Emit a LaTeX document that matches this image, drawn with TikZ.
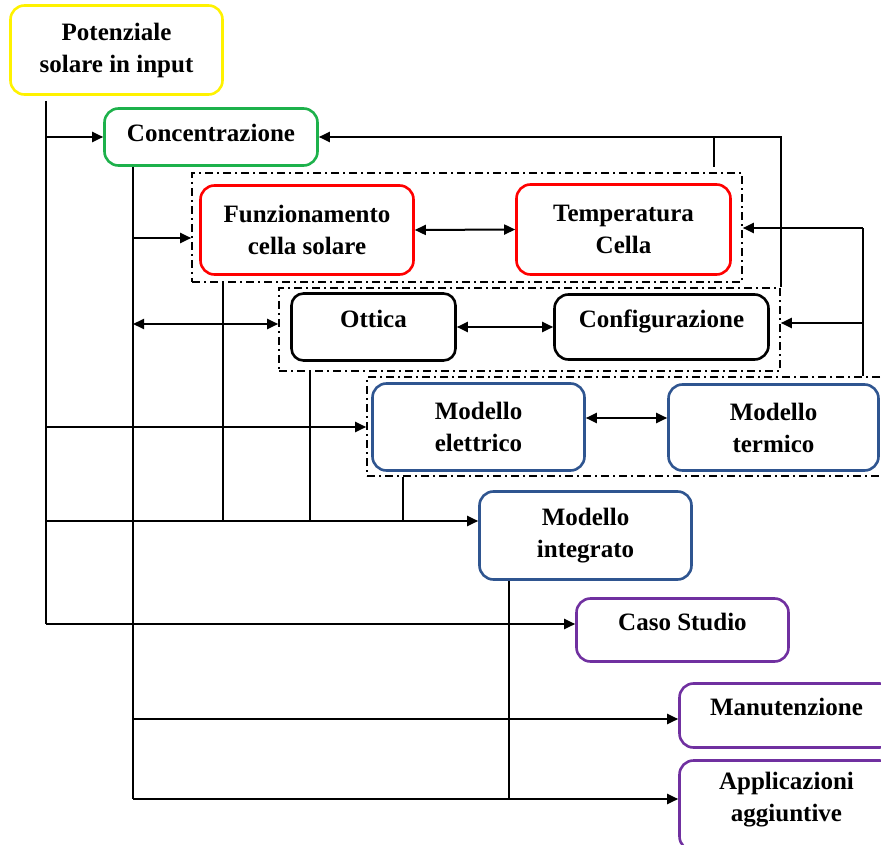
\documentclass[tikz,border=0pt]{standalone}
\usepackage{fontspec}
\setmainfont{Liberation Serif}
\usetikzlibrary{arrows.meta,calc}
\definecolor{cyel}{HTML}{FFF200}
\definecolor{cgreen}{HTML}{1DB14B}
\definecolor{cred}{HTML}{FF0000}
\definecolor{cblue}{HTML}{2F5590}
\definecolor{cpurple}{HTML}{7030A0}
\begin{document}
\begin{tikzpicture}[x=1pt,y=-1pt,
  box/.style={draw,line width=2.6pt,rounded corners=14pt,
    font=\fontsize{25}{32}\selectfont\bfseries,inner sep=0pt,fill=white},
  two/.style={align=center},
  grp/.style={draw,line width=1.6pt,dash pattern=on 8pt off 4pt on 2pt off 4pt,inner sep=0pt},
  con/.style={line width=2pt},
  arr/.style={con,-{Triangle[length=11pt,width=10pt]}},
  darr/.style={con,{Triangle[length=11pt,width=10pt]}-{Triangle[length=11pt,width=10pt]}},
  one/.style={text height=8pt,text depth=8pt}]
\useasboundingbox (0,0) rectangle (881,845);

% groups
\node[grp,minimum width=550pt,minimum height=109pt] (g1) at (467,227.5) {};
\node[grp,minimum width=501pt,minimum height=83pt] (g2) at (529.5,329.5) {};
\node[grp,minimum width=540pt,minimum height=99pt] (g3) at (637,426.5) {};

% boxes
\node[box,two,draw=cyel,minimum width=212pt,minimum height=89pt] (pot) at (116.5,50) {Potenziale\\solare in input};
\node[box,draw=cgreen,minimum width=213pt,minimum height=57pt,text height=13pt,text depth=3pt] (conc) at (211,137) {Concentrazione};
\node[box,two,draw=cred,minimum width=213pt,minimum height=89pt] (funz) at (307,230) {Funzionamento\\cella solare};
\node[box,two,draw=cred,minimum width=214pt,minimum height=90pt] (temp) at (623.5,229.5) {Temperatura\\Cella};
\node[box,draw=black,rounded corners=12pt,minimum width=164pt,minimum height=67pt,one] (ott) at (373.5,327) {Ottica};
\node[box,draw=black,minimum width=214pt,minimum height=65pt,one] (conf) at (661.5,327) {Configurazione};
\node[box,two,draw=cblue,minimum width=212pt,minimum height=87pt] (mel) at (478.5,427) {Modello\\elettrico};
\node[box,two,draw=cblue,minimum width=210pt,minimum height=86pt] (mter) at (773.5,427.5) {Modello\\termico};
\node[box,two,draw=cblue,minimum width=212pt,minimum height=88pt] (mint) at (585.5,535.5) {Modello\\integrato};
\node[box,draw=cpurple,minimum width=212pt,minimum height=63pt,one] (caso) at (682.5,630) {Caso Studio};
\node[box,draw=cpurple,minimum width=214pt,minimum height=64pt,one] (man) at (786.5,715.5) {Manutenzione};
\node[box,draw=cpurple,minimum width=214pt,minimum height=90pt,text height=17pt,text depth=50pt] (app) at (786.5,805.5)
  {\begin{tabular}[t]{@{}c@{}}Applicazioni\\aggiuntive\end{tabular}};

% trunk A
\coordinate (a0) at (46,101);
\coordinate (a1) at (46,521);
\coordinate (a2) at (46,624);
\draw[con] (a0) -- (a2);
\draw[arr] (a0 |- conc.west) -- (conc.west);
\draw[arr] (a0 |- mel.west) -- (mel.west -| g3.west);
\draw[arr] (a1) -- (a1 -| mint.west);
\draw[arr] (a2) -- (a2 -| caso.west);

% trunk B
\coordinate (bx) at (133,0);
\coordinate (b1) at (133,238);
\coordinate (b2) at (133,324);
\coordinate (b3) at (133,719);
\coordinate (b4) at (133,799);
\draw[con] (conc.south -| bx) -- (b4);
\draw[arr] (b1) -- (b1 -| g1.west);
\draw[darr] (b2) -- (b2 -| g2.west);
\draw[arr] (b3) -- (b3 -| man.west);
\draw[arr] (b4) -- (b4 -| app.west);

% drops into the integrated model line
\coordinate (cx) at (223,0);
\coordinate (dx) at (310,0);
\coordinate (ex) at (403,0);
\coordinate (fx) at (509,0);
\draw[con] (g1.south -| cx) -- (a1 -| cx);
\draw[con] (g2.south -| dx) -- (a1 -| dx);
\draw[con] (g3.south -| ex) -- (a1 -| ex);
\draw[con] (mint.south -| fx) -- (b4 -| fx);

% feedback to Concentrazione
\draw[arr] (g2.north east) |- (conc.east);
\coordinate (sx) at (714,167);
\draw[con] (sx) -- (sx |- conc.east);

% feedback from thermal group
\coordinate (hx) at (863,0);
\coordinate (h1) at (863,228);
\coordinate (h2) at (863,323);
\draw[con] (g3.north -| hx) -- (h1);
\draw[arr] (h1) -- (h1 -| g1.east);
\draw[arr] (h2) -- (h2 -| g2.east);

% pairs
\draw[darr] (funz.east) -- (temp.west);
\draw[darr] (ott.east) -- (conf.west);
\coordinate (m1) at (0,418);
\draw[darr] (m1 -| mel.east) -- (m1 -| mter.west);
\end{tikzpicture}
\end{document}
